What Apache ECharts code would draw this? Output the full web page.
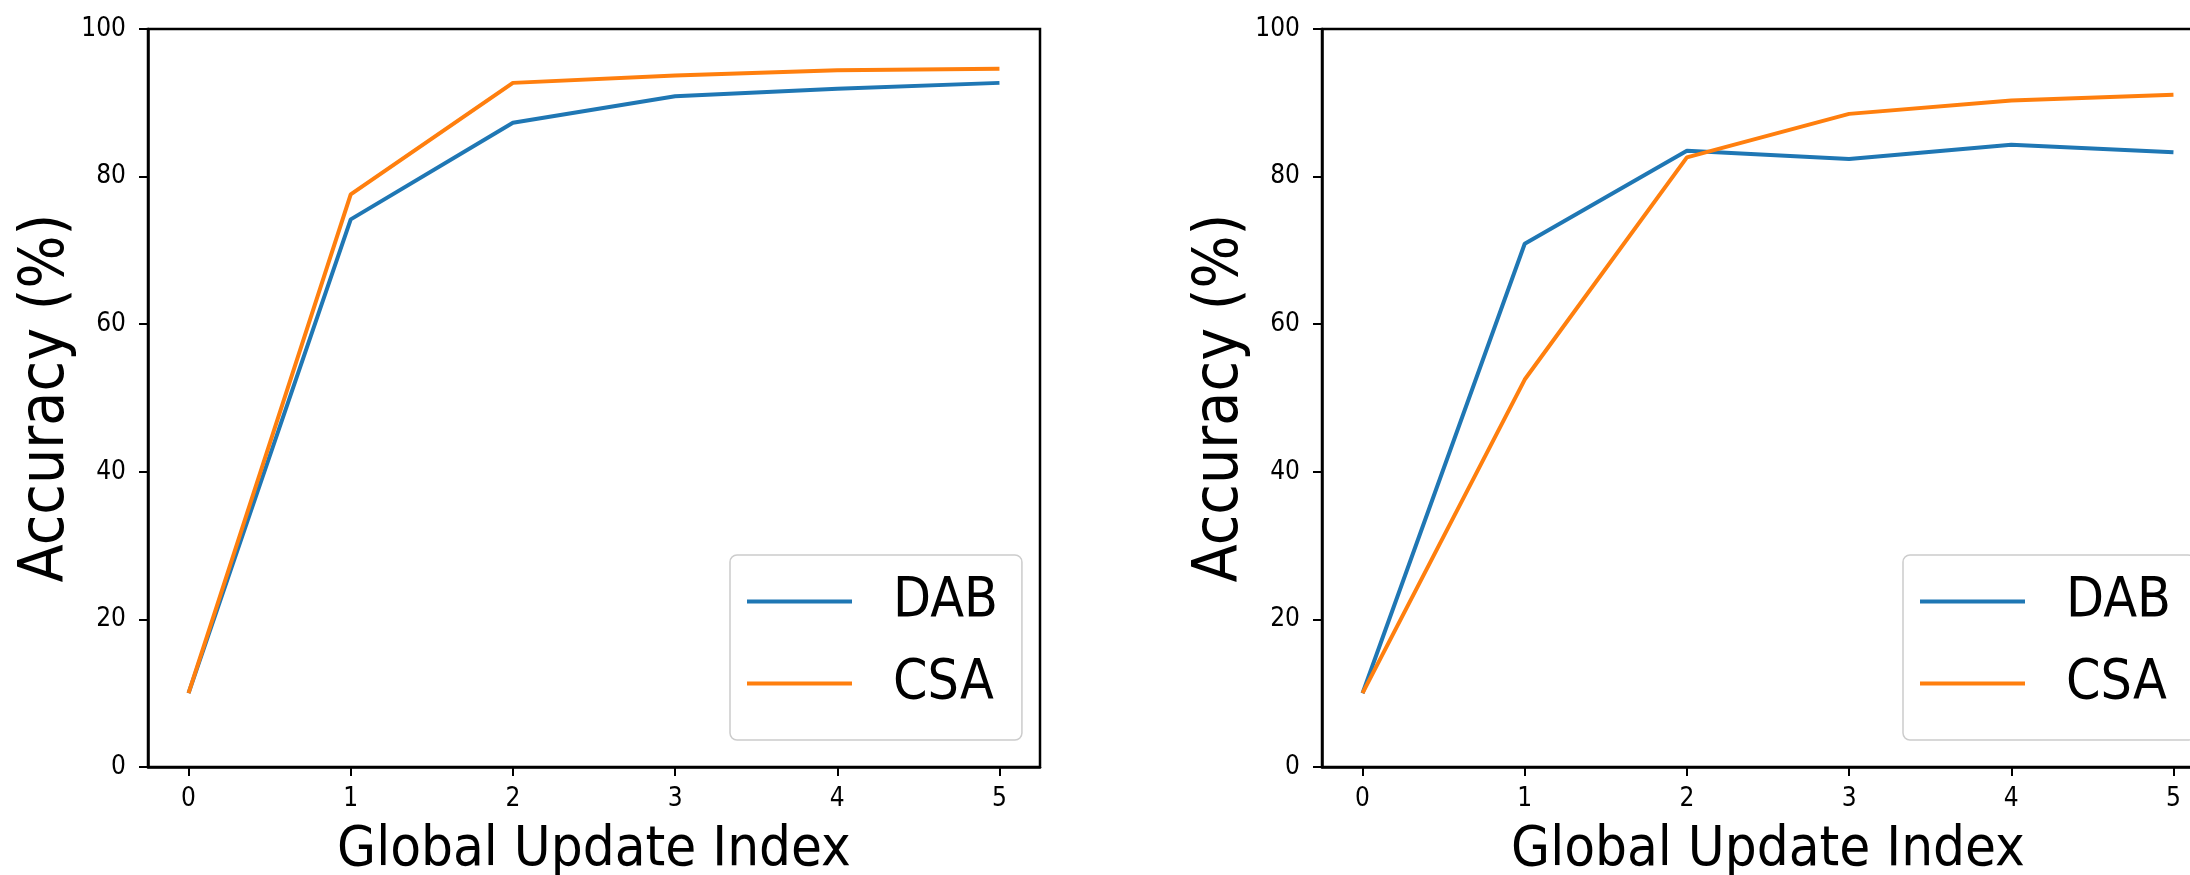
<!DOCTYPE html>
<html><head><meta charset="utf-8">
<script src="https://cdn.jsdelivr.net/npm/echarts@6/dist/echarts.min.js"></script>
<style>html,body{margin:0;padding:0;background:#fff;overflow:hidden}#c{width:2190px;height:875px}</style>
</head><body><div id="c"></div>
<script>
const xValues = [0, 1, 2, 3, 4, 5];
const xTickLabels = ['0', '1', '2', '3', '4', '5'];
const yTickLabels = ['0', '20', '40', '60', '80', '100'];
const seriesNames = ['DAB', 'CSA'];
const dabLeft = [10, 74.2, 87.3, 90.9, 91.9, 92.7];
const csaLeft = [10, 77.6, 92.7, 93.7, 94.4, 94.6];
const dabRight = [10, 70.9, 83.5, 82.4, 84.3, 83.3];
const csaRight = [10, 52.5, 82.6, 88.5, 90.3, 91.1];
const xTitle = 'Global Update Index';
const yTitle = 'Accuracy (%)';

const FONT = "'DejaVu Sans Condensed', 'DejaVu Sans', sans-serif";
const BLUE = '#1f77b4', ORANGE = '#ff7f0e';

const chart = echarts.init(document.getElementById('c'), null, {renderer: 'canvas'});
const gridLefts = [148, 1322];
const legendLefts = [730, 1903];

function mkX(i) {
  return {
    type: 'value', gridIndex: i, min: -0.25, max: 5.25,
    splitLine: {show: false},
    axisLine: {show: true, onZero: false, lineStyle: {color: '#000', width: 2.5}},
    axisTick: {show: true, customValues: xValues, length: 9, lineStyle: {color: '#000', width: 2}},
    axisLabel: {customValues: xValues, formatter: v => xTickLabels[xValues.indexOf(v)],
      fontSize: 26, color: '#000', margin: 19, fontFamily: FONT},
    name: xTitle, nameLocation: 'middle', nameGap: 55,
    nameTextStyle: {fontSize: 56, color: '#000', fontFamily: FONT}
  };
}
function mkY(i) {
  return {
    type: 'value', gridIndex: i, min: 0, max: 100, interval: 20,
    splitLine: {show: false},
    axisLine: {show: true, onZero: false, lineStyle: {color: '#000', width: 2.5}},
    axisTick: {show: true, length: 9, lineStyle: {color: '#000', width: 2}},
    axisLabel: {formatter: v => yTickLabels[Math.round(v / 20)], fontSize: 26, color: '#000', margin: 22, fontFamily: FONT},
    name: yTitle, nameLocation: 'middle', nameRotate: 90, nameGap: 66,
    nameTextStyle: {fontSize: 62, color: '#000', fontFamily: FONT}
  };
}
function mkSeries(name, arr, color, i) {
  return {
    type: 'line', name: name, xAxisIndex: i, yAxisIndex: i,
    data: xValues.map((x, k) => [x, arr[k]]),
    symbol: 'none', showSymbol: false,
    lineStyle: {color: color, width: 4}, itemStyle: {color: color},
    emphasis: {disabled: true}
  };
}
function mkLegend(i) {
  return {
    left: legendLefts[i], top: 555, orient: 'vertical',
    data: seriesNames, icon: 'rect', itemWidth: 105, itemHeight: 4, itemGap: 25,
    padding: [18, 24, 28, 17],
    backgroundColor: 'rgba(255,255,255,0.8)', borderColor: '#cccccc', borderWidth: 1.5, borderRadius: 7,
    textStyle: {fontSize: 55, lineHeight: 57, color: '#000', fontFamily: FONT, padding: [0, 0, 0, 36]},
    selectedMode: false
  };
}

chart.setOption({
  animation: false,
  backgroundColor: '#fff',
  grid: gridLefts.map(l => ({left: l, top: 29, width: 892, height: 738, show: true,
    borderColor: '#000', borderWidth: 2.5, backgroundColor: 'transparent', containLabel: false,
    outerBoundsMode: 'none'})),
  xAxis: [mkX(0), mkX(1)],
  yAxis: [mkY(0), mkY(1)],
  legend: [mkLegend(0), mkLegend(1)],
  series: [
    mkSeries(seriesNames[0], dabLeft, BLUE, 0),
    mkSeries(seriesNames[1], csaLeft, ORANGE, 0),
    mkSeries(seriesNames[0], dabRight, BLUE, 1),
    mkSeries(seriesNames[1], csaRight, ORANGE, 1)
  ]
});
</script></body></html>
